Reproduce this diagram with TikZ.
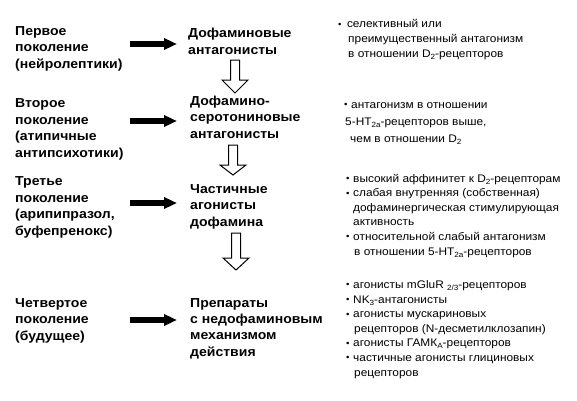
\documentclass[tikz,border=0pt]{standalone}
\usepackage{fontspec}
\setmainfont{Liberation Sans}
\newfontfamily\wf[FakeStretch=1.08]{Liberation Sans}
\usetikzlibrary{arrows.meta,calc}
\newcommand{\bul}{\makebox[7pt][l]{\raisebox{0.5pt}{\fontsize{9}{9}\selectfont\textbullet}}}
\newcommand{\sbs}[1]{\raisebox{-2pt}{\fontsize{7.5}{7.5}\selectfont #1}}
\tikzset{
  gen/.style={anchor=base west, inner sep=0pt, align=left, font=\wf\fontsize{13}{16.5}\selectfont\bfseries},
  cls/.style={anchor=base west, inner sep=0pt, align=left, font=\wf\fontsize{13}{16.3}\selectfont\bfseries},
  note/.style={anchor=base west, inner sep=0pt, align=left, font=\wf\fontsize{11}{14.6}\selectfont},
  blackarrow/.style={line width=5.5pt, -{Triangle[length=13pt,width=11pt]}},
  hollow/.style={draw, line width=1pt, fill=white, line join=miter}
}
\begin{document}
\begin{tikzpicture}[x=1pt,y=-1pt]
\useasboundingbox[fill=white] (0,0) rectangle (577,400);
% generations (anchor = baseline of last line)
\node[gen] (g1) at (15,68) {Первое\\поколение\\(нейролептики)};
\node[gen] (g2) at (15,157) {Второе\\поколение\\(атипичные\\антипсихотики)};
\node[gen] (g3) at (15,235) {Третье\\поколение\\(арипипразол,\\буфепренокс)};
\node[gen] (g4) at (15,340) {Четвертое\\поколение\\(будущее)};
% classes
\node[cls] (m1) at (188,54) {Дофаминовые\\антагонисты};
\node[cls] (m2) at (190,138) {Дофамино-\\серотониновые\\антагонисты};
\node[cls] (m3) at (190,226) {Частичные\\агонисты\\дофамина};
\node[cls] (m4) at (190,356) {Препараты\\с недофаминовым\\механизмом\\действия};
% notes
\node[note] (n1) at (338,57) {\bul\,селективный или\\\hspace*{10pt}преимущественный антагонизм\\\hspace*{10pt}в отношении D\sbs{2}-рецепторов};
\node[note, font=\wf\fontsize{11}{17}\selectfont] (n2) at (344,142) {\bul антагонизм в отношении\\\hspace*{1pt}5-HT\sbs{2а}-рецепторов выше,\\\hspace*{6pt}чем в отношении D\sbs{2}};
\node[note] (n3) at (346,255) {\bul высокий аффинитет к D\sbs{2}-рецепторам\\\bul слабая внутренняя (собственная)\\\hspace*{7pt}дофаминергическая стимулирующая\\\hspace*{7pt}активность\\\bul относительной слабый антагонизм\\\hspace*{8pt}в отношении 5-HT\sbs{2а}-рецепторов};
\node[note] (n4) at (346,376) {\bul агонисты mGluR \sbs{2/3}-рецепторов\\\bul NK\sbs{3}-антагонисты\\\bul агонисты мускариновых\\\hspace*{8pt}рецепторов (N-десметилклозапин)\\\bul агонисты ГАМК\sbs{А}-рецепторов\\\bul частичные агонисты глициновых\\\hspace*{8pt}рецепторов};
% black arrows
\foreach \i/\y in {1/44,2/121,3/203,4/320}{
  \coordinate (as\i) at (130,\y);
  \coordinate (ae\i) at (177,\y);
  \draw[blackarrow] (as\i) -- (ae\i);
}
% hollow arrows
\foreach \i/\cx/\ya/\yb/\yc in {1/235/60/80/93,2/233/145/165/175,3/236/233/258/270}{
  \coordinate (h\i) at (\cx,\ya);
  \draw[hollow] ($(h\i)+(-4.5,0)$) -- ($(h\i)+(-4.5,\yb-\ya)$) -- ($(h\i)+(-13,\yb-\ya)$)
     -- ($(h\i)+(0,\yc-\ya)$) -- ($(h\i)+(13,\yb-\ya)$) -- ($(h\i)+(4.5,\yb-\ya)$)
     -- ($(h\i)+(4.5,0)$) -- cycle;
}
\end{tikzpicture}
\end{document}
